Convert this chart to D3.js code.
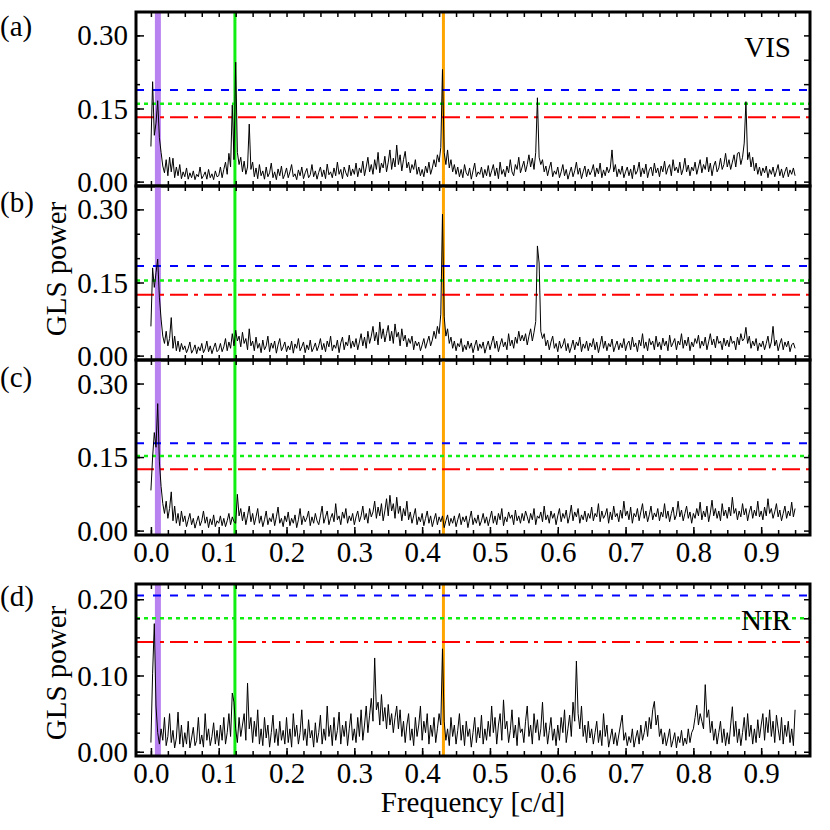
<!DOCTYPE html>
<html><head><meta charset="utf-8">
<script src="https://cdn.jsdelivr.net/npm/d3@7"></script>
<style>
body{margin:0;background:#fff}
svg text{font-family:"Liberation Serif","Times New Roman",serif;fill:#000}
</style>
</head><body><svg id="c" width="830" height="830"></svg>
<script>
// sample grid of the periodograms (c/d): 20 samples per 0.05 c/d row
const freqStep = 0.0025;

// GLS power, panel (a) VIS
const powerA = [
0.072,0.205,0.095,0.120,0.166,0.090,0.060,0.032,0.018,0.045,0.012,0.050,0.020,0.048,0.008,0.030,0.012,0.035,0.006,0.020,
0.010,0.028,0.005,0.018,0.008,0.022,0.004,0.015,0.010,0.030,0.006,0.012,0.020,0.005,0.025,0.008,0.016,0.004,0.022,0.010,
0.012,0.030,0.008,0.025,0.040,0.015,0.058,0.030,0.157,0.045,0.245,0.060,0.035,0.050,0.020,0.042,0.015,0.030,0.118,0.025,
0.040,0.010,0.028,0.006,0.035,0.012,0.022,0.005,0.030,0.010,0.018,0.038,0.008,0.020,0.004,0.026,0.012,0.032,0.006,0.015,
0.028,0.008,0.020,0.035,0.010,0.016,0.004,0.024,0.012,0.030,0.006,0.018,0.027,0.008,0.014,0.035,0.010,0.022,0.005,0.019,
0.030,0.010,0.024,0.006,0.036,0.014,0.020,0.008,0.028,0.012,0.040,0.015,0.025,0.006,0.030,0.018,0.010,0.034,0.012,0.026,
0.015,0.038,0.010,0.028,0.018,0.042,0.012,0.030,0.050,0.020,0.035,0.015,0.045,0.025,0.060,0.018,0.038,0.028,0.052,0.020,
0.040,0.065,0.025,0.048,0.030,0.075,0.035,0.055,0.022,0.045,0.062,0.028,0.040,0.018,0.035,0.025,0.045,0.015,0.030,0.012,
0.025,0.010,0.032,0.018,0.040,0.015,0.028,0.045,0.030,0.055,0.040,0.070,0.230,0.060,0.035,0.065,0.028,0.045,0.020,0.035,
0.015,0.030,0.010,0.025,0.008,0.035,0.018,0.012,0.028,0.005,0.022,0.038,0.010,0.020,0.015,0.030,0.008,0.025,0.012,0.033,
0.010,0.022,0.035,0.012,0.028,0.006,0.040,0.015,0.025,0.010,0.032,0.018,0.045,0.020,0.012,0.035,0.025,0.050,0.018,0.030,
0.042,0.020,0.035,0.055,0.030,0.048,0.025,0.060,0.172,0.050,0.035,0.045,0.020,0.032,0.012,0.028,0.040,0.010,0.022,0.015,
0.030,0.008,0.020,0.035,0.012,0.025,0.005,0.018,0.030,0.010,0.022,0.040,0.015,0.028,0.006,0.020,0.032,0.010,0.026,0.014,
0.022,0.035,0.010,0.028,0.016,0.038,0.008,0.024,0.012,0.030,0.018,0.028,0.065,0.020,0.035,0.010,0.026,0.015,0.032,0.008,
0.020,0.030,0.012,0.026,0.006,0.034,0.015,0.022,0.040,0.010,0.028,0.016,0.036,0.008,0.024,0.030,0.012,0.038,0.018,0.028,
0.010,0.032,0.020,0.042,0.015,0.028,0.035,0.012,0.045,0.022,0.030,0.018,0.040,0.014,0.026,0.048,0.020,0.034,0.012,0.030,
0.022,0.040,0.015,0.030,0.045,0.018,0.035,0.025,0.050,0.020,0.038,0.012,0.032,0.042,0.020,0.028,0.048,0.025,0.035,0.058,
0.030,0.045,0.025,0.040,0.055,0.030,0.058,0.060,0.035,0.050,0.079,0.164,0.045,0.060,0.030,0.050,0.022,0.038,0.015,0.030,
0.012,0.028,0.018,0.032,0.008,0.025,0.015,0.030,0.010,0.022,0.035,0.012,0.026,0.008,0.020,0.030,0.010,0.024,0.015,0.028,
0.012
];
// panel (b)
const powerB = [
0.060,0.180,0.140,0.170,0.198,0.120,0.075,0.040,0.025,0.050,0.020,0.035,0.078,0.015,0.040,0.010,0.030,0.008,0.025,0.012,
0.020,0.006,0.015,0.028,0.005,0.012,0.022,0.004,0.018,0.010,0.025,0.006,0.014,0.030,0.008,0.020,0.004,0.016,0.026,0.008,
0.012,0.025,0.008,0.018,0.035,0.010,0.028,0.015,0.045,0.020,0.052,0.030,0.040,0.018,0.048,0.025,0.035,0.012,0.055,0.020,
0.030,0.010,0.038,0.015,0.025,0.006,0.032,0.012,0.020,0.040,0.008,0.026,0.015,0.030,0.005,0.022,0.035,0.010,0.018,0.028,
0.008,0.020,0.012,0.030,0.005,0.024,0.015,0.035,0.010,0.018,0.028,0.006,0.022,0.012,0.032,0.008,0.016,0.026,0.010,0.020,
0.035,0.012,0.025,0.008,0.030,0.018,0.040,0.010,0.022,0.015,0.032,0.006,0.026,0.038,0.012,0.028,0.020,0.042,0.015,0.030,
0.018,0.035,0.012,0.028,0.045,0.020,0.038,0.015,0.050,0.025,0.040,0.060,0.030,0.048,0.022,0.069,0.035,0.055,0.028,0.045,
0.062,0.030,0.050,0.025,0.065,0.038,0.048,0.020,0.055,0.030,0.042,0.018,0.035,0.025,0.040,0.012,0.030,0.020,0.028,0.010,
0.022,0.035,0.015,0.028,0.040,0.020,0.032,0.050,0.035,0.060,0.045,0.085,0.290,0.080,0.040,0.055,0.025,0.038,0.015,0.030,
0.010,0.025,0.018,0.035,0.008,0.022,0.012,0.030,0.015,0.026,0.006,0.020,0.032,0.010,0.024,0.015,0.028,0.005,0.018,0.030,
0.012,0.026,0.040,0.015,0.030,0.008,0.022,0.035,0.018,0.028,0.012,0.045,0.020,0.032,0.015,0.038,0.025,0.050,0.030,0.042,
0.030,0.045,0.022,0.040,0.055,0.030,0.048,0.070,0.225,0.190,0.050,0.035,0.045,0.020,0.032,0.012,0.028,0.040,0.015,0.025,
0.008,0.030,0.015,0.022,0.035,0.010,0.025,0.006,0.018,0.032,0.012,0.028,0.020,0.038,0.008,0.024,0.015,0.030,0.010,0.026,
0.018,0.035,0.012,0.028,0.006,0.022,0.040,0.015,0.030,0.010,0.025,0.018,0.034,0.008,0.020,0.030,0.012,0.026,0.016,0.035,
0.010,0.024,0.030,0.012,0.038,0.018,0.026,0.008,0.032,0.020,0.045,0.015,0.028,0.010,0.035,0.022,0.030,0.012,0.040,0.018,
0.028,0.012,0.036,0.020,0.030,0.010,0.042,0.018,0.026,0.035,0.012,0.030,0.022,0.045,0.015,0.032,0.020,0.038,0.010,0.028,
0.018,0.035,0.025,0.042,0.015,0.030,0.020,0.038,0.012,0.028,0.045,0.022,0.034,0.016,0.040,0.025,0.030,0.012,0.036,0.020,
0.032,0.018,0.040,0.025,0.030,0.012,0.038,0.022,0.045,0.030,0.035,0.058,0.025,0.040,0.015,0.030,0.020,0.035,0.010,0.026,
0.018,0.030,0.012,0.025,0.040,0.015,0.028,0.060,0.020,0.032,0.010,0.024,0.035,0.012,0.028,0.018,0.030,0.008,0.022,0.026,
0.015
];
// panel (c)
const powerC = [
0.082,0.150,0.200,0.170,0.259,0.140,0.090,0.055,0.035,0.060,0.025,0.045,0.079,0.020,0.050,0.015,0.035,0.010,0.040,0.018,
0.030,0.008,0.022,0.035,0.012,0.025,0.005,0.018,0.030,0.010,0.020,0.040,0.015,0.028,0.006,0.024,0.012,0.032,0.008,0.020,
0.015,0.030,0.010,0.025,0.008,0.020,0.035,0.012,0.028,0.018,0.015,0.074,0.030,0.045,0.020,0.038,0.012,0.030,0.050,0.018,
0.035,0.012,0.028,0.045,0.015,0.030,0.008,0.022,0.040,0.012,0.026,0.018,0.035,0.010,0.028,0.048,0.015,0.025,0.008,0.030,
0.018,0.038,0.010,0.025,0.015,0.032,0.006,0.022,0.045,0.012,0.030,0.018,0.026,0.040,0.010,0.028,0.015,0.035,0.020,0.012,
0.030,0.050,0.015,0.028,0.040,0.012,0.025,0.035,0.018,0.055,0.022,0.030,0.012,0.038,0.025,0.045,0.015,0.030,0.020,0.035,
0.012,0.028,0.040,0.018,0.030,0.050,0.022,0.035,0.015,0.045,0.028,0.038,0.060,0.025,0.048,0.030,0.055,0.020,0.040,0.065,
0.030,0.072,0.040,0.055,0.025,0.068,0.035,0.050,0.020,0.045,0.030,0.060,0.022,0.038,0.015,0.030,0.045,0.012,0.028,0.018,
0.035,0.010,0.025,0.040,0.015,0.030,0.008,0.022,0.035,0.012,0.028,0.018,0.030,0.006,0.020,0.032,0.010,0.025,0.015,0.030,
0.008,0.022,0.035,0.012,0.028,0.018,0.030,0.006,0.024,0.040,0.012,0.026,0.015,0.032,0.010,0.020,0.035,0.015,0.028,0.010,
0.025,0.040,0.015,0.030,0.012,0.035,0.022,0.045,0.010,0.028,0.018,0.038,0.025,0.032,0.012,0.042,0.020,0.030,0.015,0.035,
0.020,0.040,0.028,0.015,0.035,0.022,0.045,0.012,0.030,0.025,0.038,0.018,0.050,0.022,0.032,0.015,0.040,0.025,0.035,0.012,
0.030,0.045,0.018,0.035,0.025,0.042,0.015,0.030,0.052,0.020,0.038,0.028,0.045,0.015,0.032,0.022,0.040,0.018,0.035,0.025,
0.048,0.020,0.035,0.028,0.055,0.018,0.040,0.025,0.032,0.045,0.015,0.038,0.022,0.050,0.028,0.035,0.018,0.042,0.025,0.060,
0.030,0.040,0.022,0.048,0.015,0.035,0.028,0.045,0.020,0.038,0.055,0.025,0.040,0.018,0.032,0.050,0.022,0.036,0.028,0.045,
0.020,0.038,0.028,0.055,0.025,0.040,0.018,0.035,0.048,0.022,0.032,0.060,0.028,0.042,0.020,0.035,0.050,0.025,0.038,0.015,
0.035,0.025,0.045,0.030,0.058,0.022,0.040,0.028,0.050,0.018,0.036,0.062,0.030,0.045,0.025,0.040,0.020,0.055,0.030,0.042,
0.025,0.048,0.030,0.068,0.035,0.045,0.022,0.040,0.028,0.055,0.032,0.045,0.020,0.038,0.050,0.025,0.042,0.030,0.060,0.028,
0.040,0.022,0.048,0.030,0.065,0.035,0.045,0.025,0.038,0.055,0.028,0.042,0.020,0.035,0.050,0.025,0.040,0.030,0.058,0.028,
0.045
];
// panel (d) NIR
const powerD = [
0.012,0.103,0.168,0.060,0.025,0.010,0.030,0.015,0.045,0.008,0.020,0.050,0.012,0.028,0.005,0.018,0.052,0.010,0.035,0.006,
0.025,0.010,0.040,0.005,0.018,0.032,0.008,0.015,0.045,0.010,0.022,0.006,0.050,0.015,0.030,0.008,0.020,0.038,0.010,0.028,
0.008,0.035,0.015,0.045,0.010,0.025,0.050,0.020,0.077,0.065,0.030,0.012,0.045,0.020,0.035,0.050,0.015,0.090,0.030,0.045,
0.012,0.040,0.020,0.055,0.010,0.030,0.008,0.045,0.018,0.035,0.006,0.025,0.048,0.012,0.030,0.008,0.040,0.015,0.028,0.010,
0.045,0.012,0.030,0.006,0.050,0.020,0.035,0.010,0.025,0.055,0.015,0.030,0.008,0.042,0.018,0.028,0.006,0.038,0.012,0.025,
0.048,0.010,0.030,0.015,0.060,0.020,0.035,0.008,0.045,0.015,0.028,0.052,0.010,0.035,0.020,0.040,0.008,0.030,0.050,0.015,
0.030,0.012,0.045,0.020,0.055,0.015,0.035,0.060,0.025,0.048,0.070,0.040,0.123,0.055,0.065,0.035,0.075,0.040,0.058,0.030,
0.062,0.035,0.050,0.025,0.045,0.060,0.030,0.055,0.020,0.040,0.012,0.035,0.050,0.015,0.030,0.008,0.045,0.020,0.035,0.060,
0.015,0.040,0.025,0.050,0.010,0.035,0.020,0.045,0.012,0.030,0.050,0.035,0.135,0.040,0.015,0.030,0.008,0.045,0.020,0.035,
0.010,0.028,0.050,0.015,0.035,0.008,0.040,0.020,0.030,0.006,0.025,0.045,0.012,0.032,0.018,0.048,0.010,0.030,0.015,0.040,
0.020,0.060,0.025,0.045,0.010,0.035,0.050,0.015,0.068,0.030,0.040,0.012,0.028,0.055,0.018,0.035,0.008,0.045,0.025,0.030,
0.012,0.040,0.060,0.020,0.035,0.010,0.050,0.025,0.042,0.015,0.030,0.065,0.020,0.038,0.010,0.028,0.045,0.015,0.030,0.008,
0.035,0.015,0.045,0.025,0.055,0.012,0.030,0.048,0.020,0.065,0.040,0.119,0.050,0.030,0.060,0.020,0.035,0.012,0.040,0.018,
0.030,0.010,0.025,0.040,0.012,0.028,0.008,0.050,0.020,0.035,0.006,0.018,0.030,0.010,0.025,0.008,0.022,0.035,0.048,0.015,
0.025,0.008,0.020,0.012,0.030,0.006,0.018,0.028,0.010,0.035,0.015,0.025,0.040,0.020,0.045,0.030,0.055,0.066,0.035,0.048,
0.020,0.030,0.010,0.025,0.008,0.018,0.030,0.006,0.015,0.025,0.005,0.020,0.012,0.028,0.008,0.018,0.010,0.030,0.012,0.025,
0.030,0.045,0.061,0.035,0.050,0.040,0.030,0.088,0.045,0.055,0.025,0.040,0.015,0.030,0.010,0.025,0.040,0.012,0.030,0.008,
0.025,0.010,0.035,0.059,0.020,0.040,0.012,0.030,0.008,0.025,0.045,0.015,0.050,0.020,0.035,0.010,0.030,0.012,0.042,0.018,
0.035,0.050,0.015,0.045,0.025,0.055,0.020,0.040,0.012,0.048,0.030,0.015,0.045,0.010,0.035,0.020,0.040,0.012,0.030,0.008,
0.055
];

// false-alarm probability levels [blue dashed, green dotted, red dash-dot]
const fapA = [0.188, 0.160, 0.132];
const fapB = [0.184, 0.154, 0.125];
const fapC = [0.178, 0.152, 0.125];
const fapD = [0.205, 0.175, 0.144];

// marked frequencies: purple band, green line, orange line
const markerFreqs = [0.0103, 0.1239, 0.4314];

const xTickLabels = [0.0,0.1,0.2,0.3,0.4,0.5,0.6,0.7,0.8,0.9];
const yTicksVIS = [0.00, 0.15, 0.30];
const yTicksNIR = [0.00, 0.10, 0.20];
const panelLabels = ["(a)","(b)","(c)","(d)"];
const yTitle = "GLS power";
const xTitle = "Frequency [c/d]";

// ---------------- drawing ----------------
const FONT = '"Liberation Serif","Times New Roman",serif';
const svg = d3.select("#c").attr("font-family", FONT);
const FS = 29;
const x = d3.scaleLinear().domain([-0.022, 0.972]).range([136, 810]);
const L = 136, R = 810;

const markerStyle = [
  {color:"#b883f0", width:6},
  {color:"#11ee11", width:3},
  {color:"#ffa500", width:3}
];
const fapStyle = [
  {color:"#0000ff", dash:"8,9", width:2},
  {color:"#11ee11", dash:"4,4", width:2.5},
  {color:"#ff0000", dash:"18,6,4,6", width:2}
];

const panels = [
  {power:powerA, fap:fapA, top:12,  bottom:186, ydom:[-0.009,0.348], major:yTicksVIS, minor:0.05, label:panelLabels[0], labelY:36, tag:"VIS", tagY:57, xlab:false},
  {power:powerB, fap:fapB, top:186, bottom:360, ydom:[-0.009,0.348], major:yTicksVIS, minor:0.05, label:panelLabels[1], labelY:212, xlab:false},
  {power:powerC, fap:fapC, top:360, bottom:535, ydom:[-0.009,0.348], major:yTicksVIS, minor:0.05, label:panelLabels[2], labelY:387, xlab:true},
  {power:powerD, fap:fapD, top:584, bottom:756, ydom:[-0.0056,0.22], major:yTicksNIR, minor:0.025, label:panelLabels[3], labelY:606, tag:"NIR", tagY:630, xlab:true}
];

const xMinor = d3.range(0, 0.9501, 0.025);

panels.forEach((p, k) => {
  const y = d3.scaleLinear().domain(p.ydom).range([p.bottom, p.top]);
  const g = svg.append("g");
  const clipId = "clip" + k;
  svg.append("clipPath").attr("id", clipId).append("rect")
    .attr("x", L).attr("y", p.top).attr("width", R - L).attr("height", p.bottom - p.top);
  const inner = g.append("g").attr("clip-path", `url(#${clipId})`);

  inner.selectAll("line.mk").data(markerFreqs).join("line")
    .attr("x1", d => x(d)).attr("x2", d => x(d))
    .attr("y1", p.top).attr("y2", p.bottom)
    .attr("stroke", (d,i) => markerStyle[i].color)
    .attr("stroke-width", (d,i) => markerStyle[i].width);

  inner.selectAll("line.fap").data(p.fap).join("line")
    .attr("x1", L).attr("x2", R)
    .attr("y1", d => y(d)).attr("y2", d => y(d))
    .attr("stroke", (d,i) => fapStyle[i].color)
    .attr("stroke-width", (d,i) => fapStyle[i].width)
    .attr("stroke-dasharray", (d,i) => fapStyle[i].dash);

  const line = d3.line().x((d,i) => x(i * freqStep)).y(d => y(d));
  inner.append("path").datum(p.power).attr("d", line)
    .attr("fill", "none").attr("stroke", "#000").attr("stroke-width", 1);

  const yMinorVals = d3.range(0, p.ydom[1], p.minor);
  const ax = (gen, tx, ty) => g.append("g").attr("transform", `translate(${tx},${ty})`).call(gen);
  const clean = sel => { sel.select(".domain").remove(); sel.selectAll("line").attr("stroke","#000").attr("stroke-width",1.5); sel.attr("font-family", FONT); return sel; };

  clean(ax(d3.axisLeft(y).tickValues(yMinorVals).tickSize(-4).tickFormat(""), L, 0));
  const yl = clean(ax(d3.axisLeft(y).tickValues(p.major).tickSize(-8).tickPadding(8).tickFormat(d3.format(".2f")), L, 0));
  yl.selectAll("text").attr("font-size", FS).attr("font-family", FONT).attr("dy","0.33em");
  clean(ax(d3.axisRight(y).tickValues(yMinorVals).tickSize(-6).tickFormat(""), R, 0));

  clean(ax(d3.axisTop(x).tickValues(xMinor).tickSize(-5).tickFormat(""), 0, p.top));
  clean(ax(d3.axisBottom(x).tickValues(xMinor).tickSize(-5).tickFormat(""), 0, p.bottom));
  if (p.xlab) {
    const xl = clean(ax(d3.axisBottom(x).tickValues(xTickLabels).tickSize(-8).tickPadding(6).tickFormat(d3.format(".1f")), 0, p.bottom));
    xl.selectAll("text").attr("font-size", FS).attr("font-family", FONT);
  }

  g.append("rect").attr("x", L).attr("y", p.top).attr("width", R - L).attr("height", p.bottom - p.top)
    .attr("fill", "none").attr("stroke", "#000").attr("stroke-width", 3);

  svg.append("text").attr("x", 0).attr("y", p.labelY).attr("font-size", FS).attr("font-family", FONT).text(p.label);
  if (p.tag) svg.append("text").attr("x", 791).attr("y", p.tagY).attr("text-anchor","end").attr("font-size", FS).attr("font-family", FONT).text(p.tag);
});

[[56, 269], [56, 673]].forEach(([cx, cy]) => {
  svg.append("text").attr("transform", `translate(${cx},${cy}) rotate(-90)`)
    .attr("text-anchor","middle").attr("dominant-baseline","central")
    .attr("font-size", FS).attr("font-family", FONT).text(yTitle);
});
svg.append("text").attr("x", 473).attr("y", 812).attr("text-anchor","middle")
  .attr("font-size", FS).attr("font-family", FONT).text(xTitle);
</script>
</body></html>
